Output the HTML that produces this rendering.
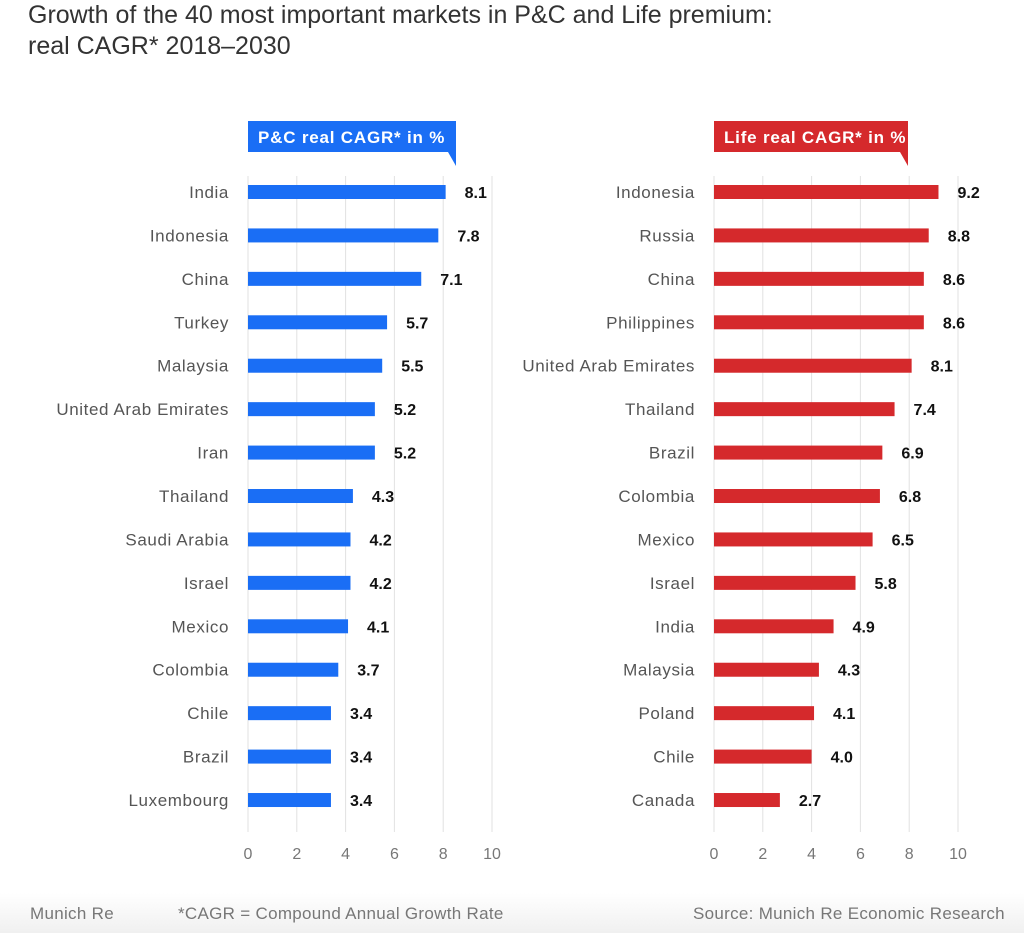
<!DOCTYPE html>
<html><head><meta charset="utf-8"><style>
body{margin:0;background:#fff;font-family:"Liberation Sans",sans-serif;}
#wrap{position:relative;width:1024px;height:933px;overflow:hidden;}
h1{position:absolute;left:28px;top:0px;margin:0;font-weight:normal;font-size:25px;line-height:31px;color:#333;}
#foot{position:absolute;left:0;top:893px;width:1024px;height:40px;background:linear-gradient(#fff,#f0f0f0);}
.ft{position:absolute;top:904px;font-size:17px;letter-spacing:0.3px;color:#777;}
</style></head><body>
<div id="wrap">
<h1>Growth of the 40 most important markets in P&amp;C and Life premium:<br>real CAGR* 2018–2030</h1>
<svg id="svg" width="1024" height="933" style="position:absolute;left:0;top:0"></svg>
<div id="foot"></div>
<div class="ft" style="left:30px">Munich Re</div>
<div class="ft" style="left:178px">*CAGR = Compound Annual Growth Rate</div>
<div class="ft" style="left:693px">Source: Munich Re Economic Research</div>
</div>
<script>
const pcCountries=["India","Indonesia","China","Turkey","Malaysia","United Arab Emirates","Iran","Thailand","Saudi Arabia","Israel","Mexico","Colombia","Chile","Brazil","Luxembourg"];
const pcValues=[8.1,7.8,7.1,5.7,5.5,5.2,5.2,4.3,4.2,4.2,4.1,3.7,3.4,3.4,3.4];
const lifeCountries=["Indonesia","Russia","China","Philippines","United Arab Emirates","Thailand","Brazil","Colombia","Mexico","Israel","India","Malaysia","Poland","Chile","Canada"];
const lifeValues=[9.2,8.8,8.6,8.6,8.1,7.4,6.9,6.8,6.5,5.8,4.9,4.3,4.1,4.0,2.7];
const ticks=[0,2,4,6,8,10];
const NS="http://www.w3.org/2000/svg";
const svg=document.getElementById('svg');
function mk(t,a,txt){const e=document.createElementNS(NS,t);for(const k in a)e.setAttribute(k,a[k]);if(txt!==undefined)e.textContent=txt;svg.appendChild(e);return e;}
function chart(key,x0,cats,vals,color,title,badgeW){
  const sx=v=>x0+v*24.4;
  const sy=i=>192+i*43.43;
  ticks.forEach(t=>{
    const l=mk('line',{x1:sx(t),x2:sx(t),y1:176,y2:832,stroke:'#e2e2e2','stroke-width':1});
    
    
    const tx=mk('text',{x:sx(t),y:859,'text-anchor':'middle','font-size':16,fill:'#777'},t);
    
    
  });
  const b=mk('path',{d:`M${x0} 121H${x0+badgeW}V166L${x0+badgeW-8} 152H${x0}Z`,fill:color});
  
  
  const bt=mk('text',{x:x0+10,y:143,'font-size':17,'letter-spacing':0.8,'font-weight':'bold',fill:'#fff'},title);
  
  
  cats.forEach((c,i)=>{
    const y=sy(i);
    const lb=mk('text',{x:x0-19,y:y+6,'text-anchor':'end','font-size':17,'letter-spacing':0.6,fill:'#555'},c);
    
    
    const r=mk('rect',{x:x0,y:y-7,width:sx(vals[i])-x0,height:14,fill:color});
    
    
    const v=mk('text',{x:sx(vals[i])+19,y:y+6,'font-size':16,'font-weight':'bold',fill:'#111'},vals[i].toFixed(1));
    
    
  });
}
chart('pc',248,pcCountries,pcValues,'#1a6ef5','P&C real CAGR* in %',208);
chart('life',714,lifeCountries,lifeValues,'#d5292c','Life real CAGR* in %',194);
</script>
</body></html>
